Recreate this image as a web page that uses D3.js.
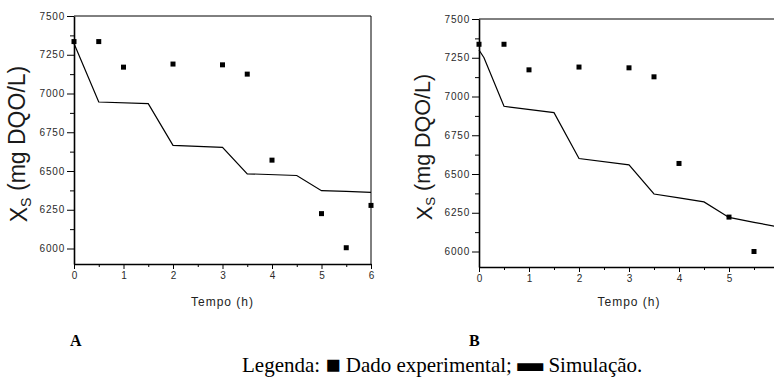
<!DOCTYPE html>
<html>
<head>
<meta charset="utf-8">
<script src="https://cdn.jsdelivr.net/npm/d3@7"></script>
<style>
  body { margin: 0; background: #fff; }
  svg { display: block; }
</style>
</head>
<body>
<script>
// experimental points (same sampling times in both panels)
const tempoExp = [0, 0.5, 1, 2, 3, 3.5, 4, 5, 5.5, 6];
const xsExpA = [7335, 7335, 7170, 7190, 7185, 7125, 6570, 6225, 6005, 6278];
const xsExpB = [7337, 7337, 7172, 7190, 7185, 7127, 6568, 6222, 6000, 6275];

// simulation curves
const tempoSimA = [0, 0.5, 1.5, 2, 3, 3.5, 4.5, 5, 5.5, 6];
const xsSimA = [7322, 6945, 6935, 6665, 6653, 6482, 6471, 6373, 6368, 6362];
const tempoSimB = [0, 0.1, 0.5, 1.5, 2, 3, 3.5, 4, 4.5, 5, 5.5, 6];
const xsSimB = [7300, 7250, 6937, 6896, 6600, 6559, 6371, 6346, 6320, 6220, 6188, 6158];

const yTicks = [6000, 6250, 6500, 6750, 7000, 7250, 7500];
const xTicks = [0, 1, 2, 3, 4, 5, 6];

const W = 774, H = 384;
const svg = d3.select("body").append("svg").attr("width", W).attr("height", H);
const sans = "Arial, 'Liberation Sans', sans-serif";
const serif = "'Times New Roman', 'Liberation Serif', serif";

function panel({ left, top, right, bottom, expY, simX, simY, letter, letterX, titleSize, showRight }) {
  const x = d3.scaleLinear().domain([0, 6]).range([left, right]);
  const y = d3.scaleLinear().domain([5900, 7500]).range([bottom, top]);
  const g = svg.append("g");

  // frame (top + right)
  g.append("line").attr("x1", left).attr("x2", Math.min(right, W)).attr("y1", top).attr("y2", top)
    .attr("stroke", "#000").attr("stroke-width", 1);
  if (showRight) {
    g.append("line").attr("x1", right).attr("x2", right).attr("y1", top).attr("y2", bottom)
      .attr("stroke", "#000").attr("stroke-width", 1);
  }

  // minor ticks
  g.append("g").attr("transform", `translate(${left},0)`)
    .call(d3.axisLeft(y).tickValues(d3.range(6125, 7500, 250)).tickSize(4).tickFormat(""))
    .call(a => a.select(".domain").remove());
  g.append("g").attr("transform", `translate(0,${bottom})`)
    .call(d3.axisBottom(x).tickValues(d3.range(0.5, 6, 1)).tickSize(3).tickFormat(""))
    .call(a => a.select(".domain").remove());

  // y axis
  const ya = g.append("g").attr("transform", `translate(${left},0)`)
    .call(d3.axisLeft(y).tickValues(yTicks).tickSize(7).tickPadding(2).tickSizeOuter(0)
      .tickFormat(d3.format("d")));
  ya.select(".domain").attr("stroke-width", 1.6);
  ya.selectAll("text").attr("font-family", sans)
    .attr("font-size", 10).attr("letter-spacing", "0.8px").attr("fill", "#2a2a2a");

  // x axis
  const xa = g.append("g").attr("transform", `translate(0,${bottom})`)
    .call(d3.axisBottom(x).tickValues(xTicks).tickSize(5).tickPadding(3).tickSizeOuter(0)
      .tickFormat(d3.format("d")));
  xa.select(".domain").attr("stroke-width", 1.6);
  xa.selectAll("text").attr("font-family", sans)
    .attr("font-size", 10).attr("fill", "#2a2a2a");

  // simulation line
  const line = d3.line().x((d, i) => x(simX[i])).y(d => y(d));
  g.append("path").datum(simY).attr("d", line)
    .attr("fill", "none").attr("stroke", "#000").attr("stroke-width", 1.2);

  // experimental points
  g.selectAll("rect.pt").data(expY).join("rect").attr("class", "pt")
    .attr("x", (d, i) => x(tempoExp[i]) - 2.5).attr("y", d => y(d) - 2.5)
    .attr("width", 5).attr("height", 5).attr("fill", "#000");

  // axis titles
  const cx = (left + right) / 2;
  g.append("text").attr("x", cx).attr("y", 306).attr("text-anchor", "middle")
    .attr("font-family", sans).attr("font-size", 12)
    .attr("letter-spacing", "1px").attr("fill", "#222").text("Tempo (h)");

  const yt = g.append("text")
    .attr("transform", `translate(${left - 47},${(top + bottom) / 2 + 4}) rotate(-90)`)
    .attr("text-anchor", "middle")
    .attr("font-family", sans).attr("font-size", titleSize)
    .attr("fill", "#1a1a1a");
  yt.append("tspan").text("X");
  yt.append("tspan").attr("font-size", titleSize * 0.62).attr("dy", "0.25em").text("S");
  yt.append("tspan").attr("dy", "-0.25em").text(" (mg DQO/L)");

  svg.append("text").attr("x", letterX).attr("y", 346)
    .attr("font-family", serif).attr("font-weight", "bold")
    .attr("font-size", 16).attr("fill", "#000").text(letter);
}

panel({ left: 74, top: 16, right: 371, bottom: 264, expY: xsExpA, simX: tempoSimA, simY: xsSimA,
  letter: "A", letterX: 70, titleSize: 23, showRight: true });
panel({ left: 479, top: 19, right: 779, bottom: 267, expY: xsExpB, simX: tempoSimB, simY: xsSimB,
  letter: "B", letterX: 469, titleSize: 21.5, showRight: false });

// legend line
const leg = svg.append("text").attr("x", 242).attr("y", 372)
  .attr("font-family", serif).attr("font-size", 21).attr("fill", "#000");
leg.append("tspan").text("Legenda: ");
leg.append("tspan").attr("font-size", 25).attr("dy", "1").text("\u25A0");
leg.append("tspan").attr("dy", "-1").text(" Dado experimental; ");
leg.append("tspan").attr("font-size", 26).attr("dy", "-1").text("\u25AC");
leg.append("tspan").attr("dy", "1").text(" Simulação.");
</script>
</body>
</html>
